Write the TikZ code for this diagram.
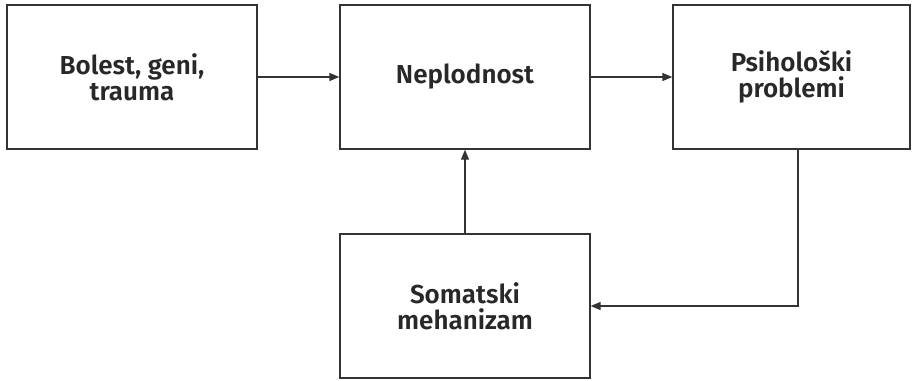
\documentclass[tikz,border=0pt]{standalone}
\usepackage{fontspec}
\setmainfont{Fira Sans}[BoldFont={Fira Sans SemiBold}]
\usepackage{tikz}
\usetikzlibrary{arrows.meta}

\tikzset{
	blok/.style={draw={rgb,255:red,51;green,51;blue,51}, line width=1pt, minimum width=250*0.75pt, minimum height=144*0.75pt, align=center, inner sep=0pt, text={rgb,255:red,40;green,40;blue,40}, font=\fontsize{19.5}{19.5}\selectfont\bfseries},
	veza/.style={draw={rgb,255:red,51;green,51;blue,51}, line width=1pt, -{Triangle[length=7.5pt,width=6pt]}}
}

\begin{document}
\begin{tikzpicture}[x=0.75pt,y=0.75pt,yscale=-1,xscale=1]
	\useasboundingbox (0,0) rectangle (917,380);

	% Boxes
	\node [blok] (bolest) at (132,77) {Bolest, geni,\\trauma};
	\node [blok] (neplodnost) at (465,77) {Neplodnost};
	\node [blok, minimum width=237*0.75pt] (psiho) at (791.5,77) {Psihološki\\problemi};
	\node [blok] (soma) at (465,306) {Somatski\\mehanizam};

	% Connectors
	\coordinate (ugao) at (798,306);
	\draw [veza] (bolest) -- (neplodnost);
	\draw [veza] (neplodnost) -- (psiho);
	\draw [veza] (soma) -- (neplodnost);
	\draw [veza] (psiho.south -| ugao) -- (ugao) -- (soma);

\end{tikzpicture}
\end{document}
